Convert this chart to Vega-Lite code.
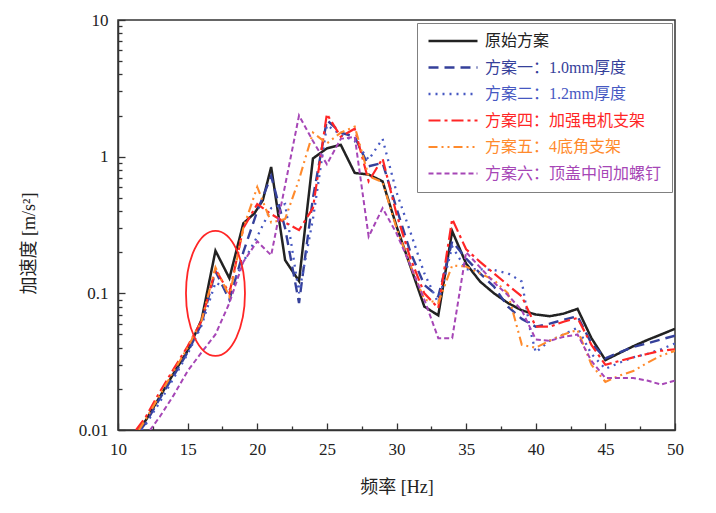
{
  "$schema": "https://vega.github.io/schema/vega-lite/v6.json",
  "width": 557,
  "height": 410,
  "autosize": {"type": "none"},
  "padding": {"left": 118, "top": 20, "right": 41, "bottom": 83},
  "background": "white",
  "encoding": {
    "x": {
      "field": "f",
      "type": "quantitative",
      "title": "频率 [Hz]",
      "scale": {"domain": [10, 50], "nice": false, "zero": false},
      "axis": {
        "values": [10, 12.5, 15, 17.5, 20, 22.5, 25, 27.5, 30, 32.5, 35, 37.5, 40, 42.5, 45, 47.5, 50],
        "labelExpr": "datum.value % 5 === 0 ? format(datum.value, 'd') : ''",
        "tickSize": {"condition": {"test": "datum.value % 5 === 0", "value": -7}, "value": -4},
        "labelPadding": 18,
        "labelFlush": false,
        "labelOverlap": false,
        "titlePadding": 18
      }
    },
    "y": {
      "field": "a",
      "type": "quantitative",
      "title": "加速度 [m/s²]",
      "scale": {"type": "log", "domain": [0.01, 10], "nice": false},
      "axis": {
        "values": [0.01, 0.02, 0.03, 0.04, 0.05, 0.06, 0.07, 0.08, 0.09, 0.1, 0.2, 0.3, 0.4, 0.5, 0.6, 0.7, 0.8, 0.9, 1, 2, 3, 4, 5, 6, 7, 8, 9, 10],
        "labelExpr": "indexof([0.01, 0.1, 1, 10], datum.value) >= 0 ? format(datum.value, '~g') : ''",
        "tickSize": {"condition": {"test": "indexof([0.01, 0.1, 1, 10], datum.value) >= 0", "value": -7}, "value": -4},
        "labelPadding": 17,
        "labelOverlap": false,
        "titleX": -80,
        "titleY": 223
      }
    }
  },
  "layer": [
    {
      "data": {
        "values": [
          {"scheme": "原始方案", "f": 11.5, "a": 0.01},
          {"scheme": "原始方案", "f": 12, "a": 0.0118},
          {"scheme": "原始方案", "f": 13, "a": 0.0175},
          {"scheme": "原始方案", "f": 14, "a": 0.026},
          {"scheme": "原始方案", "f": 15, "a": 0.038},
          {"scheme": "原始方案", "f": 16, "a": 0.064},
          {"scheme": "原始方案", "f": 17, "a": 0.205},
          {"scheme": "原始方案", "f": 18, "a": 0.129},
          {"scheme": "原始方案", "f": 19, "a": 0.325},
          {"scheme": "原始方案", "f": 19.8, "a": 0.385},
          {"scheme": "原始方案", "f": 20.4, "a": 0.48},
          {"scheme": "原始方案", "f": 21, "a": 0.84},
          {"scheme": "原始方案", "f": 22, "a": 0.175},
          {"scheme": "原始方案", "f": 23, "a": 0.123},
          {"scheme": "原始方案", "f": 24, "a": 0.97},
          {"scheme": "原始方案", "f": 25, "a": 1.15},
          {"scheme": "原始方案", "f": 26, "a": 1.22},
          {"scheme": "原始方案", "f": 27, "a": 0.76},
          {"scheme": "原始方案", "f": 28, "a": 0.74},
          {"scheme": "原始方案", "f": 29, "a": 0.66},
          {"scheme": "原始方案", "f": 30, "a": 0.31},
          {"scheme": "原始方案", "f": 31, "a": 0.157},
          {"scheme": "原始方案", "f": 32, "a": 0.08},
          {"scheme": "原始方案", "f": 33, "a": 0.069},
          {"scheme": "原始方案", "f": 34, "a": 0.285},
          {"scheme": "原始方案", "f": 35, "a": 0.165},
          {"scheme": "原始方案", "f": 36, "a": 0.122},
          {"scheme": "原始方案", "f": 37, "a": 0.1},
          {"scheme": "原始方案", "f": 38, "a": 0.085},
          {"scheme": "原始方案", "f": 39, "a": 0.075},
          {"scheme": "原始方案", "f": 40, "a": 0.07},
          {"scheme": "原始方案", "f": 41, "a": 0.068},
          {"scheme": "原始方案", "f": 42, "a": 0.071},
          {"scheme": "原始方案", "f": 43, "a": 0.077},
          {"scheme": "原始方案", "f": 44, "a": 0.047},
          {"scheme": "原始方案", "f": 45, "a": 0.0325},
          {"scheme": "原始方案", "f": 46, "a": 0.0365},
          {"scheme": "原始方案", "f": 47, "a": 0.041},
          {"scheme": "原始方案", "f": 48, "a": 0.0455},
          {"scheme": "原始方案", "f": 49, "a": 0.05},
          {"scheme": "原始方案", "f": 50, "a": 0.055},

          {"scheme": "方案一：1.0mm厚度", "f": 11.6, "a": 0.01},
          {"scheme": "方案一：1.0mm厚度", "f": 12, "a": 0.0113},
          {"scheme": "方案一：1.0mm厚度", "f": 13, "a": 0.017},
          {"scheme": "方案一：1.0mm厚度", "f": 14, "a": 0.025},
          {"scheme": "方案一：1.0mm厚度", "f": 15, "a": 0.037},
          {"scheme": "方案一：1.0mm厚度", "f": 16, "a": 0.06},
          {"scheme": "方案一：1.0mm厚度", "f": 17, "a": 0.145},
          {"scheme": "方案一：1.0mm厚度", "f": 18, "a": 0.09},
          {"scheme": "方案一：1.0mm厚度", "f": 19, "a": 0.2},
          {"scheme": "方案一：1.0mm厚度", "f": 20, "a": 0.4},
          {"scheme": "方案一：1.0mm厚度", "f": 21, "a": 0.72},
          {"scheme": "方案一：1.0mm厚度", "f": 22, "a": 0.3},
          {"scheme": "方案一：1.0mm厚度", "f": 23, "a": 0.085},
          {"scheme": "方案一：1.0mm厚度", "f": 24, "a": 0.5},
          {"scheme": "方案一：1.0mm厚度", "f": 25, "a": 1.85},
          {"scheme": "方案一：1.0mm厚度", "f": 26, "a": 1.5},
          {"scheme": "方案一：1.0mm厚度", "f": 27, "a": 1.4},
          {"scheme": "方案一：1.0mm厚度", "f": 28, "a": 0.85},
          {"scheme": "方案一：1.0mm厚度", "f": 29, "a": 0.9},
          {"scheme": "方案一：1.0mm厚度", "f": 30, "a": 0.42},
          {"scheme": "方案一：1.0mm厚度", "f": 31, "a": 0.2},
          {"scheme": "方案一：1.0mm厚度", "f": 32, "a": 0.115},
          {"scheme": "方案一：1.0mm厚度", "f": 33, "a": 0.095},
          {"scheme": "方案一：1.0mm厚度", "f": 34, "a": 0.24},
          {"scheme": "方案一：1.0mm厚度", "f": 35, "a": 0.18},
          {"scheme": "方案一：1.0mm厚度", "f": 36, "a": 0.14},
          {"scheme": "方案一：1.0mm厚度", "f": 37, "a": 0.112},
          {"scheme": "方案一：1.0mm厚度", "f": 38, "a": 0.08},
          {"scheme": "方案一：1.0mm厚度", "f": 39, "a": 0.065},
          {"scheme": "方案一：1.0mm厚度", "f": 40, "a": 0.057},
          {"scheme": "方案一：1.0mm厚度", "f": 41, "a": 0.06},
          {"scheme": "方案一：1.0mm厚度", "f": 42, "a": 0.064},
          {"scheme": "方案一：1.0mm厚度", "f": 43, "a": 0.068},
          {"scheme": "方案一：1.0mm厚度", "f": 44, "a": 0.043},
          {"scheme": "方案一：1.0mm厚度", "f": 45, "a": 0.0335},
          {"scheme": "方案一：1.0mm厚度", "f": 46, "a": 0.037},
          {"scheme": "方案一：1.0mm厚度", "f": 47, "a": 0.0405},
          {"scheme": "方案一：1.0mm厚度", "f": 48, "a": 0.043},
          {"scheme": "方案一：1.0mm厚度", "f": 49, "a": 0.046},
          {"scheme": "方案一：1.0mm厚度", "f": 50, "a": 0.049},

          {"scheme": "方案二：1.2mm厚度", "f": 11.7, "a": 0.01},
          {"scheme": "方案二：1.2mm厚度", "f": 12, "a": 0.011},
          {"scheme": "方案二：1.2mm厚度", "f": 13, "a": 0.016},
          {"scheme": "方案二：1.2mm厚度", "f": 14, "a": 0.024},
          {"scheme": "方案二：1.2mm厚度", "f": 15, "a": 0.036},
          {"scheme": "方案二：1.2mm厚度", "f": 16, "a": 0.058},
          {"scheme": "方案二：1.2mm厚度", "f": 17, "a": 0.12},
          {"scheme": "方案二：1.2mm厚度", "f": 18, "a": 0.105},
          {"scheme": "方案二：1.2mm厚度", "f": 19, "a": 0.17},
          {"scheme": "方案二：1.2mm厚度", "f": 20, "a": 0.26},
          {"scheme": "方案二：1.2mm厚度", "f": 21, "a": 0.42},
          {"scheme": "方案二：1.2mm厚度", "f": 22, "a": 0.45},
          {"scheme": "方案二：1.2mm厚度", "f": 23, "a": 0.1},
          {"scheme": "方案二：1.2mm厚度", "f": 24, "a": 0.35},
          {"scheme": "方案二：1.2mm厚度", "f": 25, "a": 1.7},
          {"scheme": "方案二：1.2mm厚度", "f": 26, "a": 1.45},
          {"scheme": "方案二：1.2mm厚度", "f": 27, "a": 1.3},
          {"scheme": "方案二：1.2mm厚度", "f": 28, "a": 0.95},
          {"scheme": "方案二：1.2mm厚度", "f": 29, "a": 1.35},
          {"scheme": "方案二：1.2mm厚度", "f": 30, "a": 0.55},
          {"scheme": "方案二：1.2mm厚度", "f": 31, "a": 0.28},
          {"scheme": "方案二：1.2mm厚度", "f": 32, "a": 0.14},
          {"scheme": "方案二：1.2mm厚度", "f": 33, "a": 0.085},
          {"scheme": "方案二：1.2mm厚度", "f": 34, "a": 0.22},
          {"scheme": "方案二：1.2mm厚度", "f": 35, "a": 0.15},
          {"scheme": "方案二：1.2mm厚度", "f": 36, "a": 0.15},
          {"scheme": "方案二：1.2mm厚度", "f": 37, "a": 0.148},
          {"scheme": "方案二：1.2mm厚度", "f": 38, "a": 0.14},
          {"scheme": "方案二：1.2mm厚度", "f": 39, "a": 0.122},
          {"scheme": "方案二：1.2mm厚度", "f": 39.6, "a": 0.054},
          {"scheme": "方案二：1.2mm厚度", "f": 40, "a": 0.037},
          {"scheme": "方案二：1.2mm厚度", "f": 41, "a": 0.045},
          {"scheme": "方案二：1.2mm厚度", "f": 42, "a": 0.05},
          {"scheme": "方案二：1.2mm厚度", "f": 43, "a": 0.056},
          {"scheme": "方案二：1.2mm厚度", "f": 44, "a": 0.036},
          {"scheme": "方案二：1.2mm厚度", "f": 45, "a": 0.028},
          {"scheme": "方案二：1.2mm厚度", "f": 46, "a": 0.031},
          {"scheme": "方案二：1.2mm厚度", "f": 47, "a": 0.034},
          {"scheme": "方案二：1.2mm厚度", "f": 48, "a": 0.036},
          {"scheme": "方案二：1.2mm厚度", "f": 49, "a": 0.039},
          {"scheme": "方案二：1.2mm厚度", "f": 50, "a": 0.043},

          {"scheme": "方案四：加强电机支架", "f": 11.3, "a": 0.01},
          {"scheme": "方案四：加强电机支架", "f": 12, "a": 0.0125},
          {"scheme": "方案四：加强电机支架", "f": 13, "a": 0.019},
          {"scheme": "方案四：加强电机支架", "f": 14, "a": 0.028},
          {"scheme": "方案四：加强电机支架", "f": 15, "a": 0.041},
          {"scheme": "方案四：加强电机支架", "f": 16, "a": 0.063},
          {"scheme": "方案四：加强电机支架", "f": 17, "a": 0.15},
          {"scheme": "方案四：加强电机支架", "f": 18, "a": 0.1},
          {"scheme": "方案四：加强电机支架", "f": 19, "a": 0.3},
          {"scheme": "方案四：加强电机支架", "f": 20, "a": 0.45},
          {"scheme": "方案四：加强电机支架", "f": 21, "a": 0.38},
          {"scheme": "方案四：加强电机支架", "f": 22, "a": 0.33},
          {"scheme": "方案四：加强电机支架", "f": 23, "a": 0.29},
          {"scheme": "方案四：加强电机支架", "f": 24, "a": 0.42},
          {"scheme": "方案四：加强电机支架", "f": 25, "a": 2.05},
          {"scheme": "方案四：加强电机支架", "f": 26, "a": 1.4},
          {"scheme": "方案四：加强电机支架", "f": 27, "a": 1.6},
          {"scheme": "方案四：加强电机支架", "f": 28, "a": 0.66},
          {"scheme": "方案四：加强电机支架", "f": 29, "a": 0.97},
          {"scheme": "方案四：加强电机支架", "f": 30, "a": 0.38},
          {"scheme": "方案四：加强电机支架", "f": 31, "a": 0.18},
          {"scheme": "方案四：加强电机支架", "f": 32, "a": 0.1},
          {"scheme": "方案四：加强电机支架", "f": 33, "a": 0.078},
          {"scheme": "方案四：加强电机支架", "f": 34, "a": 0.35},
          {"scheme": "方案四：加强电机支架", "f": 35, "a": 0.21},
          {"scheme": "方案四：加强电机支架", "f": 36, "a": 0.17},
          {"scheme": "方案四：加强电机支架", "f": 37, "a": 0.14},
          {"scheme": "方案四：加强电机支架", "f": 38, "a": 0.115},
          {"scheme": "方案四：加强电机支架", "f": 39, "a": 0.095},
          {"scheme": "方案四：加强电机支架", "f": 40, "a": 0.057},
          {"scheme": "方案四：加强电机支架", "f": 41, "a": 0.057},
          {"scheme": "方案四：加强电机支架", "f": 42, "a": 0.062},
          {"scheme": "方案四：加强电机支架", "f": 43, "a": 0.066},
          {"scheme": "方案四：加强电机支架", "f": 44, "a": 0.042},
          {"scheme": "方案四：加强电机支架", "f": 45, "a": 0.03},
          {"scheme": "方案四：加强电机支架", "f": 46, "a": 0.032},
          {"scheme": "方案四：加强电机支架", "f": 47, "a": 0.034},
          {"scheme": "方案四：加强电机支架", "f": 48, "a": 0.036},
          {"scheme": "方案四：加强电机支架", "f": 49, "a": 0.038},
          {"scheme": "方案四：加强电机支架", "f": 50, "a": 0.039},

          {"scheme": "方案五：4底角支架", "f": 11.5, "a": 0.01},
          {"scheme": "方案五：4底角支架", "f": 12, "a": 0.012},
          {"scheme": "方案五：4底角支架", "f": 13, "a": 0.018},
          {"scheme": "方案五：4底角支架", "f": 14, "a": 0.027},
          {"scheme": "方案五：4底角支架", "f": 15, "a": 0.04},
          {"scheme": "方案五：4底角支架", "f": 16, "a": 0.063},
          {"scheme": "方案五：4底角支架", "f": 17, "a": 0.155},
          {"scheme": "方案五：4底角支架", "f": 18, "a": 0.095},
          {"scheme": "方案五：4底角支架", "f": 19, "a": 0.3},
          {"scheme": "方案五：4底角支架", "f": 20, "a": 0.6},
          {"scheme": "方案五：4底角支架", "f": 21, "a": 0.33},
          {"scheme": "方案五：4底角支架", "f": 22, "a": 0.35},
          {"scheme": "方案五：4底角支架", "f": 23, "a": 0.68},
          {"scheme": "方案五：4底角支架", "f": 24, "a": 1.5},
          {"scheme": "方案五：4底角支架", "f": 25, "a": 1.25},
          {"scheme": "方案五：4底角支架", "f": 26, "a": 1.5},
          {"scheme": "方案五：4底角支架", "f": 27, "a": 1.66},
          {"scheme": "方案五：4底角支架", "f": 28, "a": 0.72},
          {"scheme": "方案五：4底角支架", "f": 29, "a": 0.65},
          {"scheme": "方案五：4底角支架", "f": 30, "a": 0.3},
          {"scheme": "方案五：4底角支架", "f": 31, "a": 0.16},
          {"scheme": "方案五：4底角支架", "f": 32, "a": 0.09},
          {"scheme": "方案五：4底角支架", "f": 33, "a": 0.085},
          {"scheme": "方案五：4底角支架", "f": 34, "a": 0.16},
          {"scheme": "方案五：4底角支架", "f": 35, "a": 0.157},
          {"scheme": "方案五：4底角支架", "f": 36, "a": 0.14},
          {"scheme": "方案五：4底角支架", "f": 37, "a": 0.125},
          {"scheme": "方案五：4底角支架", "f": 38, "a": 0.1},
          {"scheme": "方案五：4底角支架", "f": 39, "a": 0.042},
          {"scheme": "方案五：4底角支架", "f": 40, "a": 0.04},
          {"scheme": "方案五：4底角支架", "f": 41, "a": 0.045},
          {"scheme": "方案五：4底角支架", "f": 42, "a": 0.05},
          {"scheme": "方案五：4底角支架", "f": 43, "a": 0.054},
          {"scheme": "方案五：4底角支架", "f": 44, "a": 0.03},
          {"scheme": "方案五：4底角支架", "f": 45, "a": 0.0225},
          {"scheme": "方案五：4底角支架", "f": 46, "a": 0.025},
          {"scheme": "方案五：4底角支架", "f": 47, "a": 0.027},
          {"scheme": "方案五：4底角支架", "f": 48, "a": 0.031},
          {"scheme": "方案五：4底角支架", "f": 49, "a": 0.035},
          {"scheme": "方案五：4底角支架", "f": 50, "a": 0.038},

          {"scheme": "方案六：顶盖中间加螺钉", "f": 12.3, "a": 0.01},
          {"scheme": "方案六：顶盖中间加螺钉", "f": 13, "a": 0.0125},
          {"scheme": "方案六：顶盖中间加螺钉", "f": 14, "a": 0.018},
          {"scheme": "方案六：顶盖中间加螺钉", "f": 15, "a": 0.027},
          {"scheme": "方案六：顶盖中间加螺钉", "f": 16, "a": 0.037},
          {"scheme": "方案六：顶盖中间加螺钉", "f": 17, "a": 0.05},
          {"scheme": "方案六：顶盖中间加螺钉", "f": 18, "a": 0.085},
          {"scheme": "方案六：顶盖中间加螺钉", "f": 19, "a": 0.17},
          {"scheme": "方案六：顶盖中间加螺钉", "f": 20, "a": 0.24},
          {"scheme": "方案六：顶盖中间加螺钉", "f": 21, "a": 0.19},
          {"scheme": "方案六：顶盖中间加螺钉", "f": 23, "a": 2.0},
          {"scheme": "方案六：顶盖中间加螺钉", "f": 24, "a": 1.3},
          {"scheme": "方案六：顶盖中间加螺钉", "f": 25, "a": 0.88},
          {"scheme": "方案六：顶盖中间加螺钉", "f": 26, "a": 1.35},
          {"scheme": "方案六：顶盖中间加螺钉", "f": 27, "a": 1.4},
          {"scheme": "方案六：顶盖中间加螺钉", "f": 28, "a": 0.26},
          {"scheme": "方案六：顶盖中间加螺钉", "f": 29, "a": 0.42},
          {"scheme": "方案六：顶盖中间加螺钉", "f": 30, "a": 0.275},
          {"scheme": "方案六：顶盖中间加螺钉", "f": 31, "a": 0.16},
          {"scheme": "方案六：顶盖中间加螺钉", "f": 32, "a": 0.09},
          {"scheme": "方案六：顶盖中间加螺钉", "f": 33, "a": 0.047},
          {"scheme": "方案六：顶盖中间加螺钉", "f": 34, "a": 0.047},
          {"scheme": "方案六：顶盖中间加螺钉", "f": 35, "a": 0.2},
          {"scheme": "方案六：顶盖中间加螺钉", "f": 36, "a": 0.155},
          {"scheme": "方案六：顶盖中间加螺钉", "f": 37, "a": 0.12},
          {"scheme": "方案六：顶盖中间加螺钉", "f": 38, "a": 0.097},
          {"scheme": "方案六：顶盖中间加螺钉", "f": 39, "a": 0.075},
          {"scheme": "方案六：顶盖中间加螺钉", "f": 40, "a": 0.046},
          {"scheme": "方案六：顶盖中间加螺钉", "f": 41, "a": 0.045},
          {"scheme": "方案六：顶盖中间加螺钉", "f": 42, "a": 0.048},
          {"scheme": "方案六：顶盖中间加螺钉", "f": 43, "a": 0.05},
          {"scheme": "方案六：顶盖中间加螺钉", "f": 44, "a": 0.032},
          {"scheme": "方案六：顶盖中间加螺钉", "f": 45, "a": 0.024},
          {"scheme": "方案六：顶盖中间加螺钉", "f": 46, "a": 0.024},
          {"scheme": "方案六：顶盖中间加螺钉", "f": 47, "a": 0.024},
          {"scheme": "方案六：顶盖中间加螺钉", "f": 48, "a": 0.023},
          {"scheme": "方案六：顶盖中间加螺钉", "f": 49, "a": 0.0215},
          {"scheme": "方案六：顶盖中间加螺钉", "f": 50, "a": 0.023}
        ]
      },
      "mark": {"type": "line", "clip": true, "strokeJoin": "miter"},
      "encoding": {
        "color": {
          "field": "scheme",
          "type": "nominal",
          "sort": null,
          "scale": {
            "domain": ["原始方案", "方案一：1.0mm厚度", "方案二：1.2mm厚度", "方案四：加强电机支架", "方案五：4底角支架", "方案六：顶盖中间加螺钉"],
            "range": ["#222222", "#35409a", "#4658c2", "#ff2626", "#ff8a2c", "#a646b6"]
          },
          "legend": {
            "title": null,
            "orient": "top-right",
            "offset": 3,
            "padding": 10,
            "fillColor": "white",
            "strokeColor": "#808080",
            "symbolType": "stroke",
            "symbolSize": 2401,
            "symbolStrokeWidth": 2.5,
            "clipHeight": 16,
            "rowPadding": 10.5,
            "labelOffset": 6,
            "labelLimit": 300,
            "labelFont": "Liberation Serif, Noto Sans CJK SC",
            "labelFontSize": 16,
            "encode": {"labels": {"update": {"fill": {"scale": "color", "field": "value"}}}}
          }
        },
        "strokeDash": {
          "field": "scheme",
          "type": "nominal",
          "sort": null,
          "scale": {
            "domain": ["原始方案", "方案一：1.0mm厚度", "方案二：1.2mm厚度", "方案四：加强电机支架", "方案五：4底角支架", "方案六：顶盖中间加螺钉"],
            "range": [[1, 0], [10, 6], [2, 5], [12, 4, 3, 4], [9, 4, 2, 4, 2, 4], [5, 3]]
          }
        },
        "strokeWidth": {
          "field": "scheme",
          "type": "nominal",
          "sort": null,
          "scale": {
            "domain": ["原始方案", "方案一：1.0mm厚度", "方案二：1.2mm厚度", "方案四：加强电机支架", "方案五：4底角支架", "方案六：顶盖中间加螺钉"],
            "range": [2.5, 2, 2.2, 2, 2, 2]
          },
          "legend": null
        }
      }
    },
    {
      "data": {"values": [{"f": 17, "a": 0.1}]},
      "mark": {
        "type": "point",
        "shape": "M0,-1 A0.472,1 0 1,1 0,1 A0.472,1 0 1,1 0,-1 Z",
        "size": 15625,
        "filled": false,
        "stroke": "#ff2626",
        "strokeWidth": 1.8,
        "opacity": 1
      }
    }
  ],
  "config": {
    "view": {"stroke": "#333333", "strokeWidth": 1.5},
    "axis": {
      "grid": false,
      "domainColor": "#333333",
      "domainWidth": 1.5,
      "tickColor": "#333333",
      "tickWidth": 1.3,
      "labelFont": "Liberation Serif",
      "labelFontSize": 17,
      "labelColor": "#222222",
      "titleFont": "Liberation Serif, Noto Sans CJK SC",
      "titleFontSize": 18,
      "titleFontWeight": "normal",
      "titleColor": "#222222"
    }
  }
}
